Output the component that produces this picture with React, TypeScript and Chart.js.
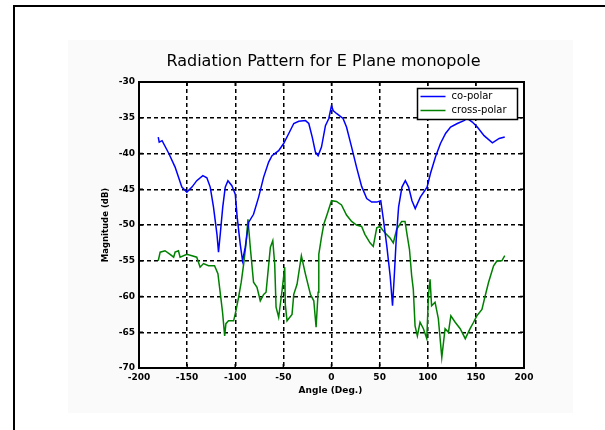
import React, { useEffect, useRef } from "react";
import { Chart, registerables } from "chart.js";

Chart.register(...registerables);

const titleText = "Radiation Pattern for E Plane monopole";
const xTitle = "Angle (Deg.)";
const yTitle = "Magnitude (dB)";
const seriesLabels = ["co-polar", "cross-polar"];
const seriesColors = ["#0000ff", "#008000"];

const xMin = -200;
const xMax = 200;
const xStep = 50;
const yMin = -70;
const yMax = -30;
const yStep = 5;

const coAngles = [
  -180, -179, -176, -169, -162.5, -155.5, -150.3, -145, -140, -133.7, -129.5, -126, -122.6, -119, -117.4,
  -115.6, -113, -110.4, -107.6, -103.5, -100, -98, -94.8, -92.4, -89.6, -86, -81, -75.7, -70.5, -65.3,
  -61.8, -54.9, -49.7, -44.4, -39.2, -34, -27, -23.6, -20, -16.7, -13.9, -10.4, -6.3, -2.8, 0, 1.7, 5.2,
  12, 15.6, 20.9, 26, 31.3, 36.6, 41.8, 47, 51.2, 54, 57.5, 61, 63.4, 65.2, 67.2, 69.7, 73.2, 76.7, 80.1,
  83.6, 87, 92.3, 99.3, 102.8, 108, 113.2, 118.5, 123.7, 130.7, 137.6, 141, 146.3, 151.5, 158.5, 167.2,
  174.2, 180,
];
const coValues = [
  -37.7, -38.4, -38.2, -40.0, -41.9, -44.7, -45.4, -44.7, -43.8, -43.1, -43.4, -44.7, -47.5, -51.3, -53.8,
  -51.3, -47.5, -44.7, -43.8, -44.5, -45.7, -48.9, -52.7, -55.0, -53.1, -49.6, -48.5, -46.1, -43.3, -41.2,
  -40.3, -39.6, -38.6, -37.2, -35.8, -35.5, -35.4, -35.8, -37.7, -39.8, -40.3, -39.1, -36.1, -35.1, -33.3,
  -34.0, -34.4, -35.1, -36.3, -39.1, -41.9, -44.6, -46.3, -46.8, -46.8, -46.6, -49.3, -53.0, -57.2, -61.3,
  -57.2, -52.1, -47.5, -44.7, -43.8, -44.7, -46.6, -47.7, -46.1, -44.7, -42.8, -40.5, -38.6, -37.2, -36.3,
  -35.8, -35.4, -35.1, -35.6, -36.3, -37.5, -38.5, -37.9, -37.7,
];

const crossAngles = [
  -180, -178, -173, -167.7, -164, -162.5, -159, -157.3, -150.3, -145, -140, -136.5, -133, -127.8, -121.5,
  -118, -114.6, -113.2, -111, -109.7, -107, -101.7, -99.3, -96.5, -93.8, -91.3, -88.9, -86.8, -84.4, -81,
  -77.4, -74, -70.5, -68, -63.5, -61, -59, -57.6, -54.9, -51.4, -48.6, -48, -46.2, -41, -39.2, -35.8,
  -31.3, -27, -21.9, -18.4, -16, -13.9, -13.2, -10.4, -8, -4.5, 0, 5.2, 10.4, 15.6, 20.9, 26, 31.3, 34.7,
  40, 43.4, 47, 50.3, 55.5, 60.8, 64.2, 67.7, 72.9, 76.4, 78.8, 81, 83.3, 85, 86.8, 89.2, 92, 95.5, 99,
  100.7, 102.4, 104, 107.6, 111, 114.6, 118, 121.5, 124, 128.5, 133.7, 139, 144, 147.6, 151, 156.3, 159.7,
  163.2, 168.4, 172, 177, 180,
];
const crossValues = [
  -55.0, -53.8, -53.6, -54.1, -54.5, -53.8, -53.6, -54.5, -54.1, -54.3, -54.5, -55.9, -55.4, -55.7, -55.7,
  -56.8, -60.6, -62.2, -65.5, -63.8, -63.4, -63.4, -62.0, -60.1, -58.0, -55.5, -52.7, -49.2, -53.1, -58.0,
  -58.7, -60.6, -59.7, -59.4, -53.1, -52.2, -55.5, -61.5, -62.9, -59.2, -55.9, -61.1, -63.4, -62.5, -59.7,
  -58.3, -54.3, -56.9, -59.7, -60.6, -64.3, -59.4, -54.1, -51.7, -49.9, -48.5, -46.6, -46.7, -47.2, -48.6,
  -49.5, -50.0, -50.2, -51.3, -52.5, -53.0, -50.4, -50.2, -51.1, -51.8, -52.5, -50.6, -49.5, -49.5, -51.6,
  -53.4, -57.1, -59.0, -64.1, -65.5, -63.6, -64.5, -65.9, -59.9, -57.6, -61.3, -60.8, -63.1, -68.5, -64.5,
  -65.0, -62.7, -63.6, -64.5, -65.9, -64.5, -63.6, -62.7, -61.8, -59.9, -58.0, -55.7, -55.0, -55.0, -54.3,
];

const FONT = "'DejaVu Sans', 'Liberation Sans', Arial, sans-serif";

const decorPlugin = {
  id: "decor",
  beforeDraw(chart: any) {
    const { ctx, chartArea: a, width, height } = chart;
    ctx.save();
    ctx.fillStyle = "#ffffff";
    ctx.fillRect(0, 0, width, height);
    ctx.fillStyle = "#fafafa";
    ctx.fillRect(68, 40, 505, 373);
    ctx.fillStyle = "#ffffff";
    ctx.fillRect(a.left, a.top, a.right - a.left, a.bottom - a.top);
    ctx.strokeStyle = "#000000";
    ctx.lineWidth = 2;
    ctx.beginPath();
    ctx.moveTo(14, height);
    ctx.lineTo(14, 6);
    ctx.lineTo(width, 6);
    ctx.stroke();
    ctx.restore();
  },
  afterDraw(chart: any) {
    const { ctx, chartArea: a } = chart;
    const xs = chart.scales.x;
    const ys = chart.scales.y;
    ctx.save();
    // frame
    ctx.strokeStyle = "#000";
    ctx.lineWidth = 2;
    ctx.strokeRect(a.left, a.top, a.right - a.left, a.bottom - a.top);
    // inward ticks
    ctx.lineWidth = 1.5;
    ctx.beginPath();
    xs.ticks.forEach((t: any) => {
      const px = xs.getPixelForValue(t.value);
      ctx.moveTo(px, a.bottom);
      ctx.lineTo(px, a.bottom - 4);
      ctx.moveTo(px, a.top);
      ctx.lineTo(px, a.top + 4);
    });
    ys.ticks.forEach((t: any) => {
      const py = ys.getPixelForValue(t.value);
      ctx.moveTo(a.left, py);
      ctx.lineTo(a.left + 4, py);
      ctx.moveTo(a.right, py);
      ctx.lineTo(a.right - 4, py);
    });
    ctx.stroke();

    // title
    ctx.fillStyle = "#000";
    ctx.font = `16px ${FONT}`;
    ctx.textAlign = "center";
    ctx.textBaseline = "middle";
    ctx.fillText(titleText, 323.5, 62);

    // axis titles
    ctx.font = `bold 9px ${FONT}`;
    ctx.fillText(xTitle, (a.left + a.right) / 2 - 1, a.bottom + 23);
    ctx.save();
    ctx.translate(a.left - 33, (a.top + a.bottom) / 2);
    ctx.rotate(-Math.PI / 2);
    ctx.font = `bold 8.5px ${FONT}`;
    ctx.fillText(yTitle, 0, 0);
    ctx.restore();

    // legend
    const lw = 100;
    const lh = 31;
    const lx = a.right - 6.5 - lw;
    const ly = a.top + 6.5;
    ctx.fillStyle = "#fff";
    ctx.fillRect(lx, ly, lw, lh);
    ctx.strokeStyle = "#000";
    ctx.lineWidth = 1.5;
    ctx.strokeRect(lx, ly, lw, lh);
    chart.data.datasets.forEach((ds: any, i: number) => {
      const yy = ly + 8 + i * 14;
      ctx.strokeStyle = ds.borderColor;
      ctx.lineWidth = 1.5;
      ctx.beginPath();
      ctx.moveTo(lx + 3, yy);
      ctx.lineTo(lx + 28, yy);
      ctx.stroke();
      ctx.fillStyle = "#000";
      ctx.textAlign = "left";
      ctx.font = `10px ${FONT}`;
      ctx.fillText(ds.label, lx + 34, yy);
    });
    ctx.restore();
  },
};

export default function App() {
  const ref = useRef<HTMLCanvasElement | null>(null);
  useEffect(() => {
    if (!ref.current) return;
    const chart = new Chart(ref.current, {
      type: "line",
      data: {
        datasets: [
          {
            label: seriesLabels[0],
            data: coAngles.map((x, i) => ({ x, y: coValues[i] })),
            borderColor: seriesColors[0],
            backgroundColor: seriesColors[0],
            borderWidth: 1.5,
            pointRadius: 0,
            tension: 0,
            fill: false,
          },
          {
            label: seriesLabels[1],
            data: crossAngles.map((x, i) => ({ x, y: crossValues[i] })),
            borderColor: seriesColors[1],
            backgroundColor: seriesColors[1],
            borderWidth: 1.5,
            pointRadius: 0,
            tension: 0,
            fill: false,
          },
        ],
      },
      options: {
        responsive: false,
        animation: false,
        devicePixelRatio: 1,
        layout: { padding: { left: 0, top: 82, right: 81, bottom: 0 } },
        plugins: {
          legend: { display: false },
          title: { display: false },
          tooltip: { enabled: false },
        },
        scales: {
          x: {
            type: "linear",
            min: xMin,
            max: xMax,
            afterFit: (s: any) => {
              s.height = 62;
            },
            ticks: {
              stepSize: xStep,
              color: "#000",
              padding: 4,
              maxRotation: 0,
              font: { family: FONT, size: 9, weight: "bold" },
            },
            grid: { color: "#000", lineWidth: 1.5, drawTicks: false },
            border: { display: true, color: "#000", width: 2, dash: [4, 3] },
          },
          y: {
            type: "linear",
            min: yMin,
            max: yMax,
            afterFit: (s: any) => {
              s.width = 139;
            },
            ticks: {
              stepSize: yStep,
              color: "#000",
              padding: 4,
              font: { family: FONT, size: 9, weight: "bold" },
            },
            grid: { color: "#000", lineWidth: 1.5, drawTicks: false },
            border: { display: true, color: "#000", width: 2, dash: [4, 3] },
          },
        },
      },
      plugins: [decorPlugin],
    });
    return () => chart.destroy();
  }, []);
  return (
    <div style={{ position: "absolute", left: 0, top: 0, width: 605, height: 430 }}>
      <canvas ref={ref} width={605} height={430} style={{ display: "block" }} />
    </div>
  );
}
